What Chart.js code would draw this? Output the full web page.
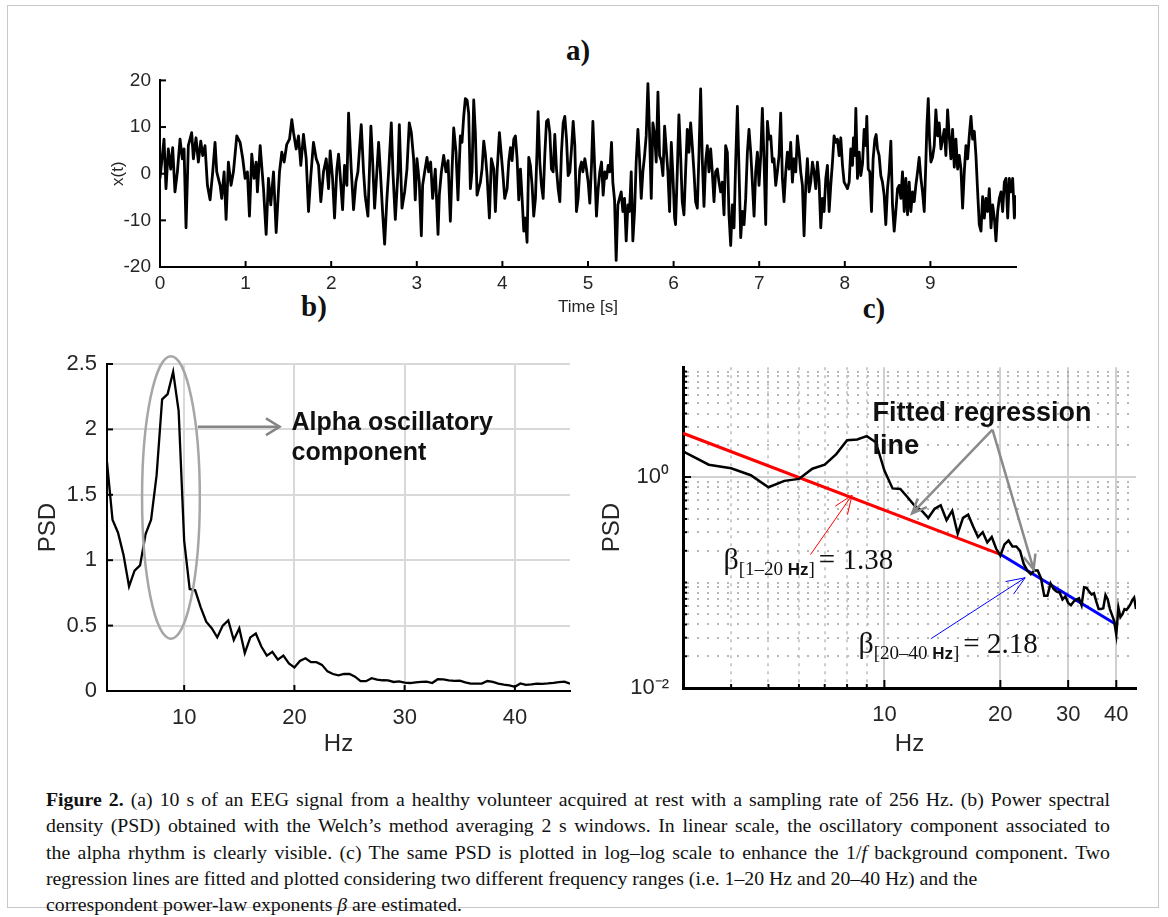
<!DOCTYPE html>
<html>
<head>
<meta charset="utf-8">
<script src="https://cdn.jsdelivr.net/npm/chart.js@4.4.0/dist/chart.umd.min.js"></script>
<style>
  body { margin:0; background:#fff; width:1168px; height:917px; position:relative; overflow:hidden; }
  .frame { position:absolute; left:7px; top:5px; width:1152px; height:903px; border:1px solid #c8c8c8; box-sizing:border-box; }
  canvas { position:absolute; }
  .lbl { position:absolute; font-family:'Liberation Serif', serif; font-weight:bold; font-size:29px; color:#111; transform:translate(-50%,-50%); }
  #cap { position:absolute; left:46px; top:786px; width:1064px; font-family:'Liberation Serif', serif; font-size:19.8px; line-height:26.3px; color:#111; }
  #cap div { white-space:nowrap; }
  #cap .j { text-align:justify; text-align-last:justify; }
</style>
</head>
<body>
<div class="frame"></div>
<div class="lbl" style="left:578px;top:50px">a)</div>
<div class="lbl" style="left:314px;top:306px">b)</div>
<div class="lbl" style="left:874px;top:308px">c)</div>
<canvas id="cA" width="950" height="260" style="left:90px;top:60px"></canvas>
<canvas id="cB" width="570" height="420" style="left:20px;top:340px"></canvas>
<canvas id="cC" width="570" height="420" style="left:590px;top:340px"></canvas>
<div id="cap">
<div class="j"><b>Figure 2.</b> (a) 10 s of an EEG signal from a healthy volunteer acquired at rest with a sampling rate of 256 Hz. (b) Power spectral</div>
<div class="j">density (PSD) obtained with the Welch’s method averaging 2 s windows. In linear scale, the oscillatory component associated to</div>
<div class="j">the alpha rhythm is clearly visible. (c) The same PSD is plotted in log–log scale to enhance the 1/<i>f</i> background component. Two</div>
<div>regression lines are fitted and plotted considering two different frequency ranges (i.e. 1–20 Hz and 20–40 Hz) and the</div>
<div>correspondent power-law exponents <i>β</i> are estimated.</div>
</div>
<script>
// ---------------- data: a) EEG trace ----------------
const timeS = [
  0, 0.047, 0.07, 0.097, 0.125, 0.148, 0.175, 0.203, 0.234, 0.261,
  0.281, 0.304, 0.331, 0.37, 0.39, 0.421, 0.448, 0.476, 0.499, 0.526,
  0.554, 0.585, 0.616, 0.643, 0.663, 0.702, 0.721, 0.749, 0.772, 0.799,
  0.83, 0.858, 0.897, 0.936, 0.967, 0.994, 1.021, 1.045, 1.072, 1.099,
  1.123, 1.138, 1.17, 1.209, 1.24, 1.267, 1.294, 1.326, 1.357, 1.396,
  1.423, 1.45, 1.481, 1.513, 1.54, 1.56, 1.591, 1.618, 1.645, 1.676,
  1.708, 1.735, 1.762, 1.793, 1.825, 1.852, 1.879, 1.91, 1.942, 1.969,
  1.988,
  2.016, 2.039, 2.066, 2.086, 2.105, 2.133, 2.156, 2.183, 2.203, 2.234,
  2.261, 2.288, 2.312, 2.351, 2.378, 2.398, 2.429, 2.464, 2.483, 2.507,
  2.526, 2.554, 2.573, 2.6, 2.624, 2.651, 2.671, 2.702, 2.721, 2.749,
  2.78, 2.796, 2.827, 2.858, 2.885, 2.912, 2.936, 2.963, 2.982, 3.002,
  3.029, 3.053, 3.068, 3.092, 3.119, 3.138, 3.162, 3.185, 3.216, 3.248,
  3.263, 3.287, 3.314, 3.341, 3.365, 3.392, 3.411, 3.431, 3.458, 3.481,
  3.509, 3.528, 3.548, 3.567, 3.587, 3.606, 3.626, 3.645, 3.665, 3.684,
  3.704, 3.723, 3.743, 3.762, 3.782, 3.801, 3.821, 3.848, 3.871, 3.899,
  3.918, 3.938, 3.965, 3.988, 4.004, 4.027,
  4.055, 4.074, 4.094, 4.113, 4.133, 4.152, 4.172, 4.191, 4.211, 4.23,
  4.25, 4.269, 4.288, 4.308, 4.327, 4.347, 4.366, 4.386, 4.405, 4.417,
  4.437, 4.456, 4.476, 4.495, 4.515, 4.534, 4.554, 4.573, 4.593, 4.612,
  4.632, 4.651, 4.671, 4.69, 4.71, 4.729, 4.749, 4.768, 4.788, 4.807,
  4.827, 4.846, 4.865, 4.885, 4.904, 4.924, 4.94, 4.963, 4.982, 5.002,
  5.021, 5.041, 5.057, 5.08, 5.099, 5.119, 5.138, 5.158, 5.177, 5.197,
  5.216, 5.236, 5.255, 5.275, 5.29, 5.31, 5.329, 5.349, 5.368, 5.388,
  5.407, 5.427, 5.446, 5.466, 5.485, 5.505, 5.524, 5.544, 5.563, 5.583,
  5.602, 5.622, 5.641, 5.661, 5.68, 5.7, 5.719, 5.739, 5.758, 5.778,
  5.797, 5.817, 5.836, 5.856, 5.875, 5.895, 5.914, 5.933, 5.953, 5.973,
  5.992, 6.012,
  6.023, 6.043, 6.062, 6.082, 6.101, 6.121, 6.14, 6.16, 6.179, 6.199,
  6.218, 6.238, 6.257, 6.277, 6.296, 6.316, 6.335, 6.355, 6.374, 6.394,
  6.413, 6.433, 6.452, 6.472, 6.491, 6.511, 6.53, 6.55, 6.569, 6.589,
  6.608, 6.628, 6.647, 6.667, 6.686, 6.706, 6.725, 6.745, 6.764, 6.784,
  6.803, 6.823, 6.842, 6.862, 6.881, 6.901, 6.92, 6.94, 6.959, 6.979,
  6.998, 7.018, 7.037, 7.057, 7.076, 7.096, 7.115, 7.135, 7.154, 7.173,
  7.193, 7.212, 7.232, 7.251, 7.271, 7.29, 7.31, 7.329, 7.349, 7.368,
  7.388, 7.407, 7.427, 7.446, 7.466, 7.485, 7.505, 7.524, 7.544, 7.563,
  7.583, 7.602, 7.622, 7.641, 7.661, 7.68, 7.7, 7.719, 7.739, 7.758,
  7.778, 7.797, 7.817, 7.836, 7.856, 7.875, 7.895, 7.914, 7.934, 7.953,
  7.973, 7.992, 8.012,
  8.031, 8.051, 8.07, 8.09, 8.101, 8.117, 8.129, 8.148, 8.168, 8.187,
  8.207, 8.226, 8.246, 8.257, 8.273, 8.292, 8.312, 8.331, 8.351, 8.366,
  8.382, 8.401, 8.421, 8.44, 8.46, 8.479, 8.499, 8.518, 8.538, 8.557,
  8.577, 8.596, 8.616, 8.635, 8.655, 8.674, 8.694, 8.713, 8.733, 8.752,
  8.772, 8.791, 8.811, 8.83, 8.85, 8.869, 8.889, 8.908, 8.928, 8.947,
  8.959, 8.975, 8.99, 9.006, 9.025, 9.045, 9.064, 9.084, 9.103, 9.123,
  9.142, 9.162, 9.181, 9.201, 9.22, 9.24, 9.259, 9.279, 9.298, 9.318,
  9.337, 9.357, 9.376, 9.396, 9.415, 9.435, 9.454, 9.474, 9.493, 9.513,
  9.532, 9.552, 9.571, 9.591, 9.61, 9.63, 9.649, 9.669, 9.688, 9.708,
  9.727, 9.747, 9.766, 9.786, 9.805, 9.825, 9.844, 9.864, 9.883, 9.903,
  9.922, 9.942, 9.961, 9.981, 10.0
];
const xSignal = [
  -1.0, 7.4, -3.2, 5.3, 1.0, 5.6, -3.9, 0.4, 7.4, 3.2,
  5.3, -11.6, 6.0, 8.8, 3.2, 7.7, 2.5, 7.0, 3.9, 6.0,
  -2.5, -5.6, 0.4, 6.7, 0.4, -2.5, -5.3, 0.4, -9.8, 2.5,
  -2.5, 0.4, 8.1, 6.7, 3.2, -1.0, 0.4, -9.1, 4.2, -1.0,
  2.5, -3.9, 6.0, -3.2, -13.0, -1.0, -6.7, 0.4, -12.6, 0.4,
  4.6, 2.5, 6.3, 7.4, 11.6, 8.8, 5.3, 8.1, 1.8, 8.4,
  3.2, -8.1, -0.4, 6.7, 3.2, 1.8, -6.0, 0.4, 3.2, -3.2,
  4.9,
  -1.0, -9.5, 1.0, 4.2, -0.4, -7.7, 1.8, -2.5, 13.0, 1.0,
  -7.7, -1.8, 0.4, 10.5, 0.4, -4.9, -9.1, 10.2, 3.2, -7.4,
  -1.8, 6.7, 1.0, -8.1, -15.1, -5.3, 0.4, 10.9, 0.4, -9.8,
  0.4, 10.5, -7.4, -3.9, 1.0, 10.9, 8.8, 3.2, -5.6, 3.2,
  -1.8, -13.3, -2.5, 0.4, 3.5, 0.4, 2.5, -5.3, 1.0, -13.0,
  -4.6, 0.4, 3.9, 0.4, 2.8, -10.2, 0.4, 9.8, 4.6, -5.6,
  8.1, 6.7, 12.3, 16.1, 15.8, 13.0, -3.2, 0.4, 15.8, 8.8,
  -4.6, -3.2, -1.8, 1.0, 7.0, 4.2, -0.4, -9.5, 3.2, 1.0,
  -8.1, 0.4, 8.8, 3.9, 0.4, -5.3,
  -3.2, 2.5, 5.6, 2.8, 7.4, 8.1, 3.2, -5.6, 1.0, -5.3,
  -12.3, -9.5, -14.7, 3.5, 1.8, -2.5, -9.1, -5.3, 5.3, 13.3,
  2.5, -2.5, -5.3, 3.9, 11.2, 11.6, 8.8, 1.0, 0.4, 8.4,
  1.0, -3.2, -6.0, 4.6, 10.9, 12.3, 7.4, -0.4, 0.4, 5.3,
  11.2, 6.0, -8.1, -5.3, 1.0, 2.5, 0.4, 3.2, 1.0, -1.8,
  -6.3, 1.8, 11.2, 0.4, -9.1, -3.2, 0.4, 2.5, -4.6, 0.4,
  -1.0, 1.8, 0.4, 6.7, -1.8, -5.6, -18.6, -6.7, -5.3, -3.9,
  -8.1, -5.3, -14.4, -6.7, -8.1, 0.4, -14.4, -8.1, 2.5, 9.5,
  3.2, -5.3, 0.4, 3.9, 8.1, 19.3, 8.8, -5.3, 10.9, 8.4,
  2.5, 17.5, 3.9, 2.8, -0.4, 10.2, 5.3, 0.4, -8.1, 6.7,
  -0.4, -9.5,
  -10.9, 0.4, 12.6, 3.9, -6.0, -8.8, 0.4, 9.5, 4.6, 10.9,
  6.0, 0.4, -6.0, -7.4, 3.9, 18.2, 3.2, -7.0, 2.5, 6.0,
  0.4, 5.3, 0.4, -6.0, 0.4, 1.0, -1.8, -3.9, -1.8, -8.8,
  6.0, 4.6, -8.8, -15.4, -6.7, -11.6, 2.5, 14.4, 1.0, -13.7,
  -8.1, -10.9, -5.3, 4.6, 9.5, 4.6, -1.8, -9.1, 0.4, 4.6,
  -2.5, 3.9, 14.0, 2.5, -10.9, 11.2, 7.4, 8.1, 2.5, 3.2,
  -2.5, 0.4, 3.9, 13.0, -1.0, -6.0, 0.4, 4.6, 1.0, 6.7,
  -1.8, 3.2, 0.4, 8.1, 4.6, 0.4, -2.5, -13.3, -2.5, 3.2,
  -3.9, -1.8, 2.5, 0.4, -3.2, 2.5, -1.8, -11.6, -5.3, -8.1,
  -1.0, 1.8, -8.1, -2.5, 2.5, 8.1, 6.7, 7.4, 3.9, 7.7,
  1.8, -1.8, -2.5,
  -3.2, -1.8, 5.3, 1.8, 7.7, 3.9, 14.0, -1.0, 4.6, -0.4,
  2.1, 9.5, 6.0, 12.3, 1.0, 0.4, -8.1, 3.2, 7.4, 8.4,
  5.3, 3.9, -0.4, -1.8, -4.6, -10.9, -3.2, 0.4, 7.0, -6.7,
  -12.3, -8.1, -3.2, -2.5, -5.3, 0.4, -8.1, -1.0, -8.8, -1.8,
  -8.1, -3.9, -6.0, -2.5, 0.4, 3.5, -1.0, -3.9, -8.1, 2.5,
  10.2, 16.1, 7.4, 2.5, 3.5, 6.0, 13.7, 8.1, 10.9, 5.3,
  7.4, 9.5, 3.9, 13.7, 8.1, 3.2, 9.5, 1.4, 7.4, 1.0,
  3.9, 1.0, -7.4, 0.4, 6.0, 3.2, 8.1, 12.3, 7.4, 9.1,
  3.9, -3.9, -10.9, -12.3, -4.9, -9.5, -5.3, -8.1, -3.2, -11.6,
  -6.7, -9.5, -14.4, -8.1, -5.3, -3.9, -8.1, -1.8, -1.0, -9.5,
  -1.0, -3.9, -1.0, -9.5, -4.6
];
const timeTicks = [0, 1, 2, 3, 4, 5, 6, 7, 8, 9];
const ampTicks = [-20, -10, 0, 10, 20];

// ---------------- data: b) and c) PSD ----------------
const freqHz = [
  3, 3.5, 4, 4.5, 5, 5.5, 6, 6.5, 7, 7.5,
  8, 8.5, 9, 9.5, 10, 10.5, 11, 11.5, 12, 12.5,
  13, 13.5, 14, 14.5, 15, 15.5, 16, 16.5, 17, 17.5,
  18, 18.5, 19, 19.5, 20, 20.5, 21, 21.5, 22, 22.5,
  23, 23.5, 24, 24.5, 25, 25.5, 26, 26.5, 27, 27.5,
  28, 28.5, 29, 29.5, 30, 30.5, 31, 31.5, 32, 32.5,
  33, 33.5, 34, 34.5, 35, 35.5, 36, 36.5, 37, 37.5,
  38, 38.5, 39, 39.5, 40, 40.5, 41, 41.5, 42, 42.5,
  43, 43.5, 44, 44.5, 45
];
const psd = [
  1.75, 1.31, 1.21, 1.04, 0.80, 0.92, 0.96, 1.20, 1.31, 1.65,
  2.23, 2.27, 2.44, 2.14, 1.15, 0.78, 0.77, 0.64, 0.53, 0.48,
  0.41, 0.50, 0.54, 0.39, 0.48, 0.29, 0.41, 0.44, 0.34, 0.27,
  0.30, 0.24, 0.27, 0.21, 0.18, 0.23, 0.25, 0.22, 0.22, 0.20,
  0.15, 0.13, 0.12, 0.13, 0.13, 0.11, 0.075, 0.075, 0.098, 0.087,
  0.082, 0.081, 0.069, 0.074, 0.064, 0.061, 0.066, 0.069, 0.071, 0.061,
  0.090, 0.089, 0.082, 0.077, 0.079, 0.066, 0.056, 0.056, 0.057, 0.076,
  0.069, 0.056, 0.049, 0.043, 0.032, 0.058, 0.047, 0.050, 0.056, 0.055,
  0.058, 0.062, 0.068, 0.072, 0.056
];
const hzTicks = [10, 20, 30, 40];
const psdTicks = [0, 0.5, 1, 1.5, 2, 2.5];
const logTicksY = [0.01, 1];
const logMinorY = [0.02, 0.03, 0.04, 0.05, 0.06, 0.07, 0.08, 0.09,
  0.1, 0.2, 0.3, 0.4, 0.5, 0.6, 0.7, 0.8, 0.9, 2, 3, 4, 5, 6, 7, 8, 9, 10];
const logMinorX = [4, 5, 6, 7, 8, 9];

// fitted lines (Hz, PSD) and slopes
const fitLow = [{x: 3, y: 2.6}, {x: 20, y: 0.185}];
const fitHigh = [{x: 20, y: 0.185}, {x: 40, y: 0.04}];
const betaLow = '1.38';
const betaHigh = '2.18';

// annotation anchors in data units
const alphaEllipse = {f: 8.8, p: 1.48, df: 2.62, dp: 1.08};
const alphaArrow = {f0: 11.24, f1: 18.66, p: 2.02};
const alphaText = {f: 19.74, p1: 1.995, p2: 1.766, lines: ['Alpha oscillatory', 'component']};
const fitText = {f: 9.31, p1: 3.41, p2: 1.655, lines: ['Fitted regression', 'line']};
const fitArrows = {from: [19.08, 2.82], to: [[11.8, 0.452], [24.4, 0.133]]};
const lowNote = {from: [6.43, 0.184], to: [8.24, 0.673], at: [3.82, 0.134], sub: '[1–20 '};
const highNote = {from: [13.2, 0.0293], to: [23.2, 0.111], at: [8.56, 0.0213], sub: '[20–40 '};

// ---------------- helpers ----------------
const SANS = "'Liberation Sans', Arial, sans-serif";
const SERIF = "'Liberation Serif', 'Times New Roman', serif";
const TXT = '#262626';

function drawArrow(ctx, x0, y0, x1, y1, head, spread){
  ctx.beginPath(); ctx.moveTo(x0, y0); ctx.lineTo(x1, y1); ctx.stroke();
  const a = Math.atan2(y1 - y0, x1 - x0);
  ctx.beginPath();
  ctx.moveTo(x1 - head * Math.cos(a - spread), y1 - head * Math.sin(a - spread));
  ctx.lineTo(x1, y1);
  ctx.lineTo(x1 - head * Math.cos(a + spread), y1 - head * Math.sin(a + spread));
  ctx.stroke();
}

// matlab style ticks pointing into the axes
const innerTicks = {
  id: 'innerTicks',
  afterDatasetsDraw(chart, args, o){
    const {ctx, chartArea: a, scales} = chart;
    ctx.save();
    ctx.strokeStyle = '#000';
    ctx.lineWidth = o.width || 1.5;
    const seg = (x0, y0, x1, y1) => { ctx.beginPath(); ctx.moveTo(x0, y0); ctx.lineTo(x1, y1); ctx.stroke(); };
    (o.x || []).forEach(v => { const p = scales.x.getPixelForValue(v); seg(p, a.bottom, p, a.bottom - o.len); });
    (o.y || []).forEach(v => { const p = scales.y.getPixelForValue(v); seg(a.left, p, a.left + o.len, p); });
    (o.xMinor || []).forEach(v => { const p = scales.x.getPixelForValue(v); seg(p, a.bottom, p, a.bottom - o.minorLen); });
    (o.yMinor || []).forEach(v => { const p = scales.y.getPixelForValue(v); if (p >= a.top) seg(a.left, p, a.left + o.minorLen, p); });
    ctx.restore();
  }
};

// dotted minor grid of the log-log panel
const minorGrid = {
  id: 'minorGrid',
  beforeDatasetsDraw(chart){
    if (chart.canvas.id !== 'cC') return;
    const {ctx, chartArea: a, scales} = chart;
    ctx.save();
    ctx.strokeStyle = '#a0a0a0';
    ctx.lineWidth = 1.5;
    ctx.setLineDash([2, 8]);
    logMinorY.forEach(v => {
      const p = Math.round(scales.y.getPixelForValue(v));
      if (p < a.top - 1) return;
      ctx.beginPath(); ctx.moveTo(a.left + 4, p); ctx.lineTo(a.right, p); ctx.stroke();
    });
    ctx.strokeStyle = '#bdbdbd';
    ctx.setLineDash([3, 5]);
    logMinorX.forEach(v => {
      const p = Math.round(scales.x.getPixelForValue(v));
      ctx.beginPath(); ctx.moveTo(p, a.top); ctx.lineTo(p, a.bottom); ctx.stroke();
    });
    ctx.restore();
  }
};

const alphaNotes = {
  id: 'alphaNotes',
  afterDatasetsDraw(chart){
    if (chart.canvas.id !== 'cB') return;
    const {ctx, scales: {x, y}} = chart;
    ctx.save();
    const cx = x.getPixelForValue(alphaEllipse.f), cy = y.getPixelForValue(alphaEllipse.p);
    const rx = x.getPixelForValue(alphaEllipse.f + alphaEllipse.df) - cx;
    const ry = cy - y.getPixelForValue(alphaEllipse.p + alphaEllipse.dp);
    ctx.strokeStyle = '#a6a6a6'; ctx.lineWidth = 2.5;
    ctx.beginPath(); ctx.ellipse(cx, cy, rx, ry, 0, 0, Math.PI * 2); ctx.stroke();
    ctx.strokeStyle = '#858585'; ctx.lineWidth = 2.5;
    const ay = y.getPixelForValue(alphaArrow.p);
    drawArrow(ctx, x.getPixelForValue(alphaArrow.f0), ay, x.getPixelForValue(alphaArrow.f1), ay, 16, 0.55);
    ctx.fillStyle = '#111'; ctx.font = 'bold 25px ' + SANS; ctx.textBaseline = 'alphabetic';
    const tx = x.getPixelForValue(alphaText.f);
    ctx.fillText(alphaText.lines[0], tx, y.getPixelForValue(alphaText.p1));
    ctx.fillText(alphaText.lines[1], tx, y.getPixelForValue(alphaText.p2));
    ctx.restore();
  }
};

function betaLabel(ctx, x, y, sub, val){
  ctx.textBaseline = 'alphabetic';
  ctx.font = '30px ' + SERIF; ctx.fillText('β', x, y); x += ctx.measureText('β').width;
  ctx.font = '19px ' + SERIF; ctx.fillText(sub, x, y + 6); x += ctx.measureText(sub).width;
  ctx.font = 'bold 17px ' + SANS; ctx.fillText('Hz', x, y + 6); x += ctx.measureText('Hz').width;
  ctx.font = '19px ' + SERIF; ctx.fillText(']', x, y + 6); x += ctx.measureText(']').width + 4;
  ctx.font = '29px ' + SERIF; ctx.fillText('= ' + val, x, y);
}

const fitNotes = {
  id: 'fitNotes',
  afterDatasetsDraw(chart){
    if (chart.canvas.id !== 'cC') return;
    const {ctx, scales: {x, y}} = chart;
    const P = (pt) => [x.getPixelForValue(pt[0]), y.getPixelForValue(pt[1])];
    ctx.save();
    ctx.fillStyle = '#111'; ctx.font = 'bold 27px ' + SANS; ctx.textBaseline = 'alphabetic';
    const tx = x.getPixelForValue(fitText.f);
    ctx.fillText(fitText.lines[0], tx, y.getPixelForValue(fitText.p1));
    ctx.fillText(fitText.lines[1], tx, y.getPixelForValue(fitText.p2));
    ctx.strokeStyle = '#8a8a8a'; ctx.lineWidth = 2.5;
    const s = P(fitArrows.from);
    fitArrows.to.forEach(t => { const e = P(t); drawArrow(ctx, s[0], s[1], e[0], e[1], 16, 0.4); });
    ctx.lineWidth = 1;
    ctx.strokeStyle = '#ff0000';
    let a = P(lowNote.from), b = P(lowNote.to);
    drawArrow(ctx, a[0], a[1], b[0], b[1], 20, 0.38);
    ctx.strokeStyle = '#0000ff';
    a = P(highNote.from); b = P(highNote.to);
    drawArrow(ctx, a[0], a[1], b[0], b[1], 20, 0.38);
    ctx.fillStyle = '#111';
    let q = P(lowNote.at); betaLabel(ctx, q[0], q[1], lowNote.sub, betaLow);
    q = P(highNote.at); betaLabel(ctx, q[0], q[1], highNote.sub, betaHigh);
    ctx.restore();
  }
};

Chart.register(innerTicks, minorGrid, alphaNotes, fitNotes);

const common = {
  responsive: false, animation: false, devicePixelRatio: 1,
  plugins: {legend: {display: false}, tooltip: {enabled: false}}
};
const setTicks = list => s => { s.ticks = list.map(v => ({value: v})); };

// ---------------- a) ----------------
new Chart(document.getElementById('cA'), {
  type: 'line',
  data: {datasets: [{
    data: timeS.map((t, i) => ({x: t, y: xSignal[i]})),
    borderColor: '#000', borderWidth: 2.8, pointRadius: 0, tension: 0, borderJoinStyle: 'round'
  }]},
  options: Object.assign({}, common, {
    layout: {padding: {left: 0, right: 24, top: 17, bottom: 0}},
    plugins: Object.assign({}, common.plugins, {innerTicks: {x: timeTicks, y: ampTicks, len: 6, width: 2}}),
    scales: {
      x: {
        type: 'linear', min: 0, max: 10,
        afterBuildTicks: setTicks(timeTicks), afterFit: s => { s.height = 53; },
        grid: {display: false, drawTicks: false},
        border: {display: true, color: '#000', width: 2},
        ticks: {font: {family: SANS, size: 19}, color: TXT, padding: 5, maxRotation: 0, autoSkip: false},
        title: {display: true, text: 'Time [s]', font: {family: SANS, size: 17}, color: TXT, padding: {top: 0, bottom: 2}}
      },
      y: {
        min: -20, max: 20,
        afterBuildTicks: setTicks(ampTicks), afterFit: s => { s.width = 70; },
        grid: {display: false, drawTicks: false},
        border: {display: true, color: '#000', width: 2},
        ticks: {font: {family: SANS, size: 19}, color: TXT, padding: 9},
        title: {display: true, text: 'x(t)', font: {family: SANS, size: 17}, color: TXT, padding: {top: 18, bottom: 0}}
      }
    }
  })
});

// ---------------- b) ----------------
new Chart(document.getElementById('cB'), {
  type: 'line',
  data: {datasets: [{
    data: freqHz.map((f, i) => ({x: f, y: psd[i]})),
    borderColor: '#000', borderWidth: 2.3, pointRadius: 0, tension: 0
  }]},
  options: Object.assign({}, common, {
    layout: {padding: {left: 0, right: 20, top: 24, bottom: 0}},
    plugins: Object.assign({}, common.plugins, {innerTicks: {x: hzTicks, y: psdTicks, len: 6, width: 2}}),
    scales: {
      x: {
        type: 'linear', min: 3, max: 45,
        afterBuildTicks: setTicks(hzTicks), afterFit: s => { s.height = 69; },
        grid: {color: '#d9d9d9', lineWidth: 2, drawTicks: false},
        border: {display: true, color: '#000', width: 2},
        ticks: {font: {family: SANS, size: 22}, color: TXT, padding: 14, maxRotation: 0, autoSkip: false},
        title: {display: true, text: 'Hz', font: {family: SANS, size: 24}, color: TXT, padding: {top: 0, bottom: 1}}
      },
      y: {
        min: 0, max: 2.5,
        afterBuildTicks: setTicks(psdTicks), afterFit: s => { s.width = 87; },
        grid: {color: '#d9d9d9', lineWidth: 2, drawTicks: false},
        border: {display: true, color: '#000', width: 2},
        ticks: {font: {family: SANS, size: 22}, color: TXT, padding: 10, callback: v => String(v)},
        title: {display: true, text: 'PSD', font: {family: SANS, size: 24}, color: TXT, padding: {top: 14, bottom: 0}}
      }
    }
  })
});

// ---------------- c) ----------------
new Chart(document.getElementById('cC'), {
  type: 'line',
  data: {datasets: [
    {data: freqHz.map((f, i) => ({x: f, y: psd[i]})), borderColor: '#000', borderWidth: 2.5, pointRadius: 0, tension: 0},
    {data: fitLow, borderColor: '#ff0000', borderWidth: 3, pointRadius: 0, tension: 0},
    {data: fitHigh, borderColor: '#0000ff', borderWidth: 3, pointRadius: 0, tension: 0}
  ]},
  options: Object.assign({}, common, {
    layout: {padding: {left: 0, right: 24, top: 24, bottom: 0}},
    plugins: Object.assign({}, common.plugins, {innerTicks: {x: hzTicks, y: logTicksY, xMinor: logMinorX, yMinor: logMinorY, len: 8, minorLen: 4, width: 2}}),
    scales: {
      x: {
        type: 'logarithmic', min: 3, max: 45,
        afterBuildTicks: setTicks(hzTicks), afterFit: s => { s.height = 72; },
        grid: {color: '#d0d0d0', lineWidth: 2, drawTicks: false},
        border: {display: true, color: '#000', width: 3},
        ticks: {font: {family: SANS, size: 22}, color: TXT, padding: 14, maxRotation: 0, autoSkip: false, callback: v => String(v)},
        title: {display: true, text: 'Hz', font: {family: SANS, size: 24}, color: TXT, padding: {top: 0, bottom: 1}}
      },
      y: {
        type: 'logarithmic', min: 0.01, max: 11,
        afterBuildTicks: setTicks(logTicksY), afterFit: s => { s.width = 93; },
        grid: {color: '#d0d0d0', lineWidth: 2, drawTicks: false},
        border: {display: true, color: '#000', width: 3},
        ticks: {font: {family: SANS, size: 22}, color: TXT, padding: 14, callback: v => (v === 1 ? '10⁰' : '10⁻²')},
        title: {display: true, text: 'PSD', font: {family: SANS, size: 24}, color: TXT, padding: {top: 8, bottom: 0}}
      }
    }
  })
});
</script>
</body>
</html>
